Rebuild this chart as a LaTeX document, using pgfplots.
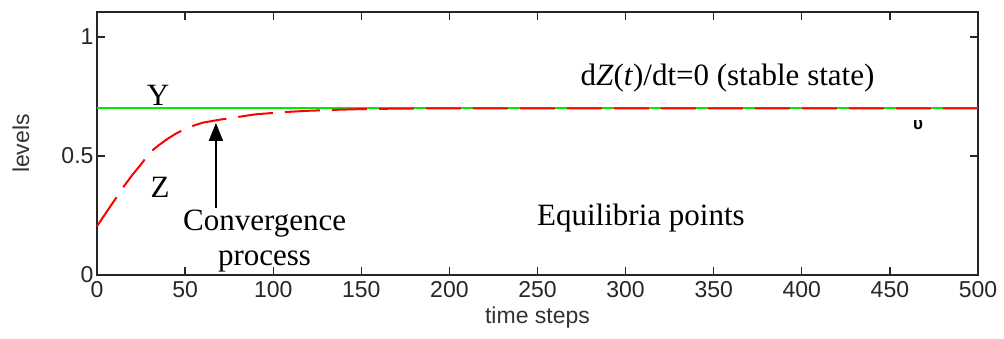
\documentclass[border=0pt]{standalone}
\usepackage{fontspec}
\setmainfont{Liberation Sans}
\newfontfamily\tnr{Liberation Serif}
\usepackage{pgfplots}
\pgfplotsset{compat=1.18}
\usetikzlibrary{arrows.meta}
\begin{document}
\begin{tikzpicture}[x=1pt,y=1pt]
\begin{axis}[
  at={(0,0)}, anchor=south west,
  scale only axis,
  width=881pt, height=263pt,
  xmin=0, xmax=500, ymin=0, ymax=1.105,
  xtick={0,50,...,500}, ytick={0,0.5,1},
  yticklabels={0,0.5,1},
  /pgf/number format/assume math mode=true,
  tick label style={font=\fontsize{23}{26}\selectfont, text=black!85},
  xticklabel style={yshift=-3pt},
  major tick length=8pt,
  tick align=inside,
  axis line style={line width=1.5pt, black!85},
  every tick/.style={line width=1.3pt, black!85},
  xlabel={time steps}, ylabel={levels},
  label style={font=\fontsize{23}{26}\selectfont, text=black!80},
  xlabel style={at={(axis description cs:0.5,-0.1635)}, anchor=center},
  ylabel style={at={(axis description cs:-0.0863,0.5)}, anchor=center},
  clip=false,
]
\addplot[color={rgb,255:red,0;green,235;blue,0}, line width=2pt] coordinates {(0,0.7) (500,0.7)};
\addplot[color={rgb,255:red,255;green,0;blue,0}, line width=2pt, dash pattern=on 35pt off 12pt] coordinates {
(0,0.205) (5,0.26) (10,0.315) (15,0.37) (20,0.42) (25,0.465) (30,0.515) (35,0.545) (40,0.572) (45,0.595) (50,0.613) (55,0.628) (60,0.64) (70,0.653) (80,0.664) (90,0.675) (100,0.681) (110,0.686) (120,0.69) (135,0.694) (150,0.697) (170,0.699) (200,0.7) (500,0.7)};
\draw[line width=1.8pt, -{Triangle[length=18pt,width=14pt]}] (axis cs:67.5,0.282) -- (axis cs:67.5,0.639);
\node[font=\tnr\fontsize{31}{34}\selectfont] at (axis cs:34.6,0.756) {Y};
\node[font=\tnr\fontsize{31}{34}\selectfont] at (axis cs:35.8,0.37) {Z};
\node[font=\tnr\fontsize{31}{34}\selectfont, anchor=base, inner sep=0pt] at (axis cs:95.1,0.185) {Convergence};
\node[font=\tnr\fontsize{31}{34}\selectfont, anchor=base, inner sep=0pt] at (axis cs:95.1,0.038) {process};
\node[font=\tnr\fontsize{31}{34}\selectfont, anchor=base, inner sep=0pt] at (axis cs:308.7,0.21) {Equilibria points};
\node[font=\tnr\fontsize{31}{34}\selectfont, anchor=base, inner sep=0pt] at (axis cs:357.8,0.798) {d\textit{Z}(\textit{t})/dt=0 (stable state)};
\node[font=\bfseries\fontsize{17}{17}\selectfont, inner sep=0pt] at (axis cs:466,0.63) {υ};
\end{axis}
\pgfresetboundingbox
\path (-97,-63) rectangle (907,275);
\end{tikzpicture}
\end{document}
